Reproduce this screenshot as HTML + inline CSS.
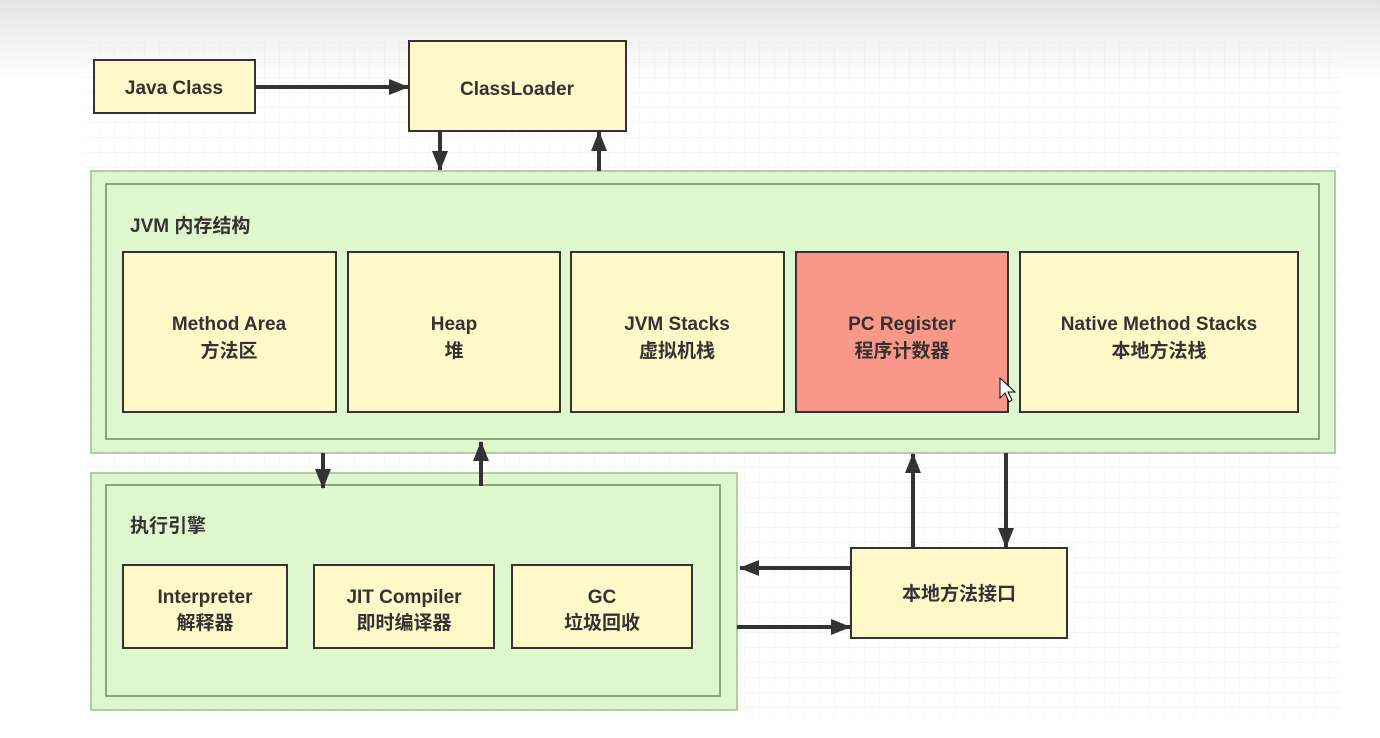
<!DOCTYPE html>
<html><head><meta charset="utf-8"><style>
html,body{margin:0;padding:0;width:1380px;height:738px;overflow:hidden;background:#fff}
text{font-family:"Liberation Sans","Noto Sans CJK SC",sans-serif;font-weight:bold;fill:#333}
</style></head><body>
<svg width="1380" height="738" viewBox="0 0 1380 738" xmlns="http://www.w3.org/2000/svg">
<defs>
<linearGradient id="g" x1="0" y1="0" x2="0" y2="1"><stop offset="0" stop-color="#e4e4e4"/><stop offset="1" stop-color="#fff"/></linearGradient>
<pattern id="grid" width="15" height="15" patternUnits="userSpaceOnUse" x="85" y="33"><path d="M15 0V15H0" fill="none" stroke="#ececec" stroke-width="1"/></pattern>
<marker id="b" viewBox="0 0 20 16" markerWidth="20" markerHeight="16" refX="19" refY="8" orient="auto" markerUnits="userSpaceOnUse"><path d="M0 0L20 8L0 16Z" fill="#333"/></marker>
</defs>
<rect width="1380" height="80" fill="url(#g)"/>
<rect x="85" y="33" width="1255" height="685" fill="url(#grid)"/>
<g stroke="#333" stroke-width="2">
<rect x="94" y="60" width="161" height="53" fill="#fff8c8"/>
<rect x="409" y="41" width="217" height="90" fill="#fff8c8"/>
</g>
<rect x="91" y="171" width="1244" height="282" fill="#dff7cc" stroke="#9fbf8a" stroke-width="1.5"/>
<rect x="106" y="184" width="1213" height="255" fill="#dff7cc" stroke="#6f8a60" stroke-width="1.5"/>
<rect x="91" y="473" width="646" height="237" fill="#dff7cc" stroke="#9fbf8a" stroke-width="1.5"/>
<rect x="106" y="485" width="614" height="211" fill="#dff7cc" stroke="#6f8a60" stroke-width="1.5"/>
<g stroke="#333" stroke-width="4" marker-end="url(#b)">
<line x1="255" y1="87" x2="408" y2="87"/>
<line x1="440" y1="131" x2="440" y2="170"/>
<line x1="599" y1="171" x2="599" y2="132"/>
<line x1="323" y1="453" x2="323" y2="488"/>
<line x1="481" y1="486" x2="481" y2="442"/>
<line x1="913" y1="548" x2="913" y2="454"/>
<line x1="1006" y1="453" x2="1006" y2="547"/>
<line x1="851" y1="568" x2="740" y2="568"/>
<line x1="737" y1="627" x2="850" y2="627"/>
</g>
<g stroke="#333" stroke-width="2" fill="#fff8c8">
<rect x="123" y="252" width="213" height="160"/>
<rect x="348" y="252" width="212" height="160"/>
<rect x="571" y="252" width="213" height="160"/>
<rect x="796" y="252" width="212" height="160" fill="#f99888"/>
<rect x="1020" y="252" width="278" height="160"/>
<rect x="123" y="565" width="164" height="83"/>
<rect x="314" y="565" width="180" height="83"/>
<rect x="512" y="565" width="180" height="83"/>
<rect x="851" y="548" width="216" height="90"/>
</g>
<g font-size="19" text-anchor="middle">
<text x="174" y="94">Java Class</text>
<text x="517" y="95">ClassLoader</text>
<text x="229" y="330">Method Area</text><text x="229" y="357">方法区</text>
<text x="454" y="330">Heap</text><text x="454" y="357">堆</text>
<text x="677" y="330">JVM Stacks</text><text x="677" y="357">虚拟机栈</text>
<text x="902" y="330">PC Register</text><text x="902" y="357">程序计数器</text>
<text x="1159" y="330">Native Method Stacks</text><text x="1159" y="357">本地方法栈</text>
<text x="205" y="603">Interpreter</text><text x="205" y="629">解释器</text>
<text x="404" y="603">JIT Compiler</text><text x="404" y="629">即时编译器</text>
<text x="602" y="603">GC</text><text x="602" y="629">垃圾回收</text>
<text x="959" y="600">本地方法接口</text>
</g>
<text x="130" y="232" font-size="19">JVM 内存结构</text>
<text x="130" y="532" font-size="19">执行引擎</text>
<path d="M1000 378L1000 398L1005 393L1009 402L1012 400L1008 392L1015 392Z" fill="#fff" stroke="#000" stroke-width="1"/>
</svg>
</body></html>
